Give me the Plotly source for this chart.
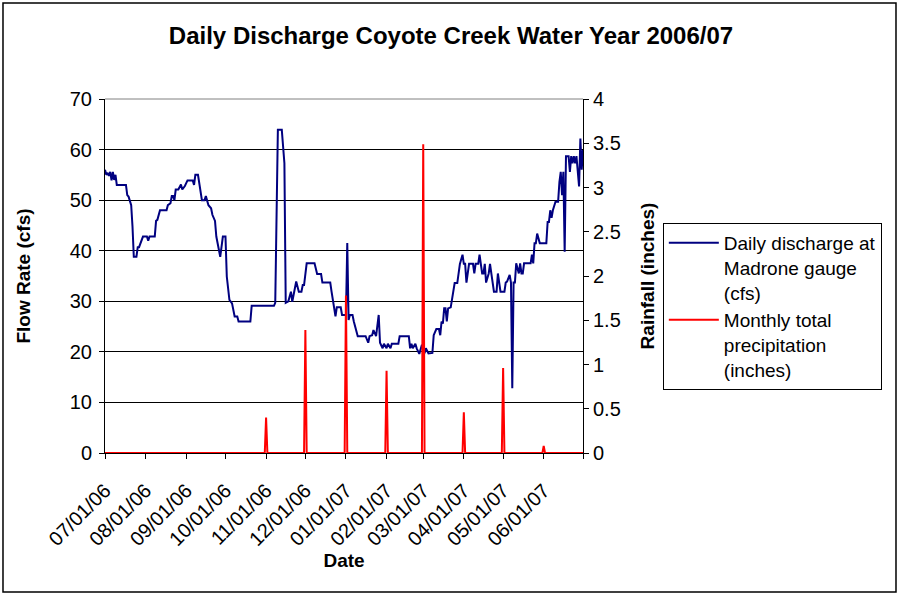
import pandas as pd
import plotly.graph_objects as go

# daily discharge at Madrone gauge, day 0 = 2006-07-01
dis_day = [0, 1, 2, 3, 4, 5, 6, 7, 8, 9, 16, 17, 18, 20, 21, 22, 24, 25, 26, 28,
           29, 32, 33, 34, 38, 39, 40, 42, 47, 48, 50, 51, 52, 53, 54, 56, 57, 58, 59, 61,
           63, 67, 68, 69, 71, 74, 76, 77, 79, 81, 82, 84, 85, 88, 90, 92, 93, 95, 97, 99,
           101, 102, 111, 112, 129, 130, 132, 135, 137, 138, 140, 142, 143, 146, 148, 150, 151, 152, 154, 160,
           162, 165, 166, 172, 173, 175, 176, 177, 180, 181, 184, 185, 186, 187, 189, 190, 193, 199, 201, 202,
           204, 205, 207, 209, 210, 212, 213, 215, 216, 218, 219, 224, 225, 232, 233, 234, 235, 237, 238, 240,
           242, 244, 245, 247, 250, 251, 253, 255, 256, 257, 258, 259, 260, 261, 262, 264, 265, 267, 269, 270,
           271, 273, 274, 275, 276, 278, 281, 282, 283, 285, 286, 288, 289, 290, 291, 293, 294, 295, 297, 299,
           300, 302, 305, 306, 307, 309, 310, 311, 312, 313, 314, 316, 317, 318, 319, 320, 325, 326, 327, 328,
           329, 330, 332, 337, 338, 339, 340, 341, 342, 344, 346, 347, 348, 349, 350, 351, 352, 354, 355, 356,
           357, 358, 359, 360, 361, 362, 363, 364, 365]
dis_cfs = [56, 55, 55.4, 54.8, 55.6, 53.9, 55.6, 54, 55, 53, 53, 51, 50.7, 49, 44.8, 38.8, 38.8, 40.7, 40.7, 42.1,
           42.8, 42.8, 42, 42.8, 42.8, 45.9, 46.1, 48, 48, 49, 49.4, 50.8, 50.8, 50, 52.1, 52.1, 52.8, 53.1, 52.1, 52.8,
           53.9, 53.9, 53, 55, 55, 50, 50, 50.8, 49, 48.4, 47.1, 45.9, 42.8, 38.8, 42.8, 42.8, 34.9, 30.3, 29.6, 27,
           27, 26, 26, 29.1, 29.1, 29.7, 63.9, 63.9, 57.3, 29.7, 30, 31.9, 29.9, 33.9, 31.9, 31.9, 33.2, 33.2, 37.5, 37.5,
           35.4, 35.4, 33.7, 33.7, 31.9, 28.1, 27, 28.8, 28.8, 27.3, 27.3, 41.5, 26.3, 27.3, 27.3, 26, 23.1, 23.1, 21.8, 23.1,
           23.3, 24.3, 23.1, 27.3, 21.8, 20.7, 21.6, 20.7, 21.6, 20.7, 21.6, 21.6, 23.1, 23.1, 20.7, 21.6, 20.7, 21.6, 20.7, 19.6,
           21.4, 19.7, 20.7, 19.7, 19.8, 23.3, 24.5, 24.5, 23.3, 26, 25.6, 28.6, 28.6, 26, 28.6, 28.8, 30.3, 33.6, 33.6, 35.5,
           37.4, 39.2, 37.4, 37.4, 33.7, 37.4, 37.4, 35.5, 37.4, 37.4, 39.2, 35.5, 35.5, 37.4, 33.7, 35.5, 37.4, 35.5, 31.9, 31.9,
           35.5, 31.9, 31.9, 33.7, 33.9, 35.2, 33.7, 12.8, 33.7, 33.7, 37.5, 35.5, 37.5, 35.5, 35.5, 37.5, 37.5, 39.2, 37.5, 41.5,
           41.5, 43.4, 41.5, 41.5, 45.7, 45.7, 48, 46.5, 48, 49.7, 49.7, 53.6, 55.6, 51, 55.6, 39.8, 58.7, 58.7, 55.6, 58.7,
           57.3, 58.7, 57.3, 58.7, 55.6, 52.7, 62.2, 56, 59.9]

# monthly total precipitation, plotted on the 1st of each month
rain_month = ["2006-07-01", "2006-08-01", "2006-09-01", "2006-10-01", "2006-11-01", "2006-12-01",
              "2007-01-01", "2007-02-01", "2007-03-01", "2007-04-01", "2007-05-01", "2007-06-01"]
rain_in = [0, 0, 0, 0, 0.4, 1.39, 1.78, 0.93, 3.49, 0.46, 0.96, 0.08]

tick_vals = rain_month + ["2007-07-01"]
tick_text = list(pd.to_datetime(rain_month).strftime("%m/%d/%y")) + [""]

start = pd.Timestamp("2006-07-01")
dis_dates = start + pd.to_timedelta(dis_day, unit="D")

days = pd.date_range("2006-07-01", "2007-07-01", freq="D")
rain_lookup = dict(zip(pd.to_datetime(rain_month), rain_in))
rain_daily = [rain_lookup.get(d, 0) for d in days]

font = "Arial, Liberation Sans, sans-serif"

fig = go.Figure()
fig.add_trace(go.Scatter(x=dis_dates, y=dis_cfs, mode="lines",
                         name="Daily discharge at<br>Madrone gauge<br>(cfs)",
                         line=dict(color="#000080", width=2)))
fig.add_trace(go.Scatter(x=days, y=rain_daily, mode="lines", yaxis="y2",
                         name="Monthly total<br>precipitation<br>(inches)",
                         line=dict(color="#FF0000", width=2)))

fig.update_layout(
    width=902, height=596,
    margin=dict(l=105, r=319, t=99, b=143),
    paper_bgcolor="white", plot_bgcolor="white",
    font=dict(family=font, size=19, color="black"),
    title=dict(text="<b>Daily Discharge Coyote Creek Water Year 2006/07</b>",
               x=0.5, xanchor="center", y=0.94, yanchor="middle",
               font=dict(size=24, color="black")),
    xaxis=dict(range=["2006-07-01", "2007-07-01"], tickvals=tick_vals, ticktext=tick_text,
               tickangle=-45, ticks="outside", ticklen=5, ticklabelstandoff=12,
               tickfont=dict(size=20),
               tickcolor="black", showline=True, linecolor="black", linewidth=1,
               showgrid=False, zeroline=False, automargin=False,
               title=dict(text="<b>Date</b>", font=dict(size=19), standoff=0)),
    yaxis=dict(range=[0, 70], dtick=10, ticks="outside", ticklen=5, tickcolor="black",
               tickfont=dict(size=20), ticklabelstandoff=3,
               showline=True, linecolor="black", linewidth=1, automargin=False,
               showgrid=True, gridcolor="black", gridwidth=1, zeroline=False,
               title=dict(text="<b>Flow Rate (cfs)</b>", font=dict(size=19), standoff=34)),
    yaxis2=dict(range=[0, 4], dtick=0.5, overlaying="y", side="right",
                ticks="outside", ticklen=5, tickcolor="black", automargin=False,
                tickfont=dict(size=20),
                showline=True, linecolor="black", linewidth=1,
                showgrid=False, zeroline=False,
                title=dict(text="<b>Rainfall (inches)</b>", font=dict(size=19), standoff=20)),
    legend=dict(x=1.167, y=0.65, xanchor="left", yanchor="top", valign="top",
                bordercolor="black", borderwidth=1, bgcolor="white",
                font=dict(size=19), tracegroupgap=0, itemwidth=50),
    showlegend=True,
)

# plot area top edge and outer chart border
fig.add_shape(type="line", xref="paper", yref="paper", x0=0, x1=1, y0=1, y1=1,
              line=dict(color="#808080", width=1))
fig.add_shape(type="rect", xref="paper", yref="paper",
              x0=-0.2134, x1=1.6548, y0=-0.3927, y1=1.2712,
              line=dict(color="black", width=1.5))

fig.write_html("out.html", config={"displayModeBar": False},
               post_script="document.body.style.margin='0';")
